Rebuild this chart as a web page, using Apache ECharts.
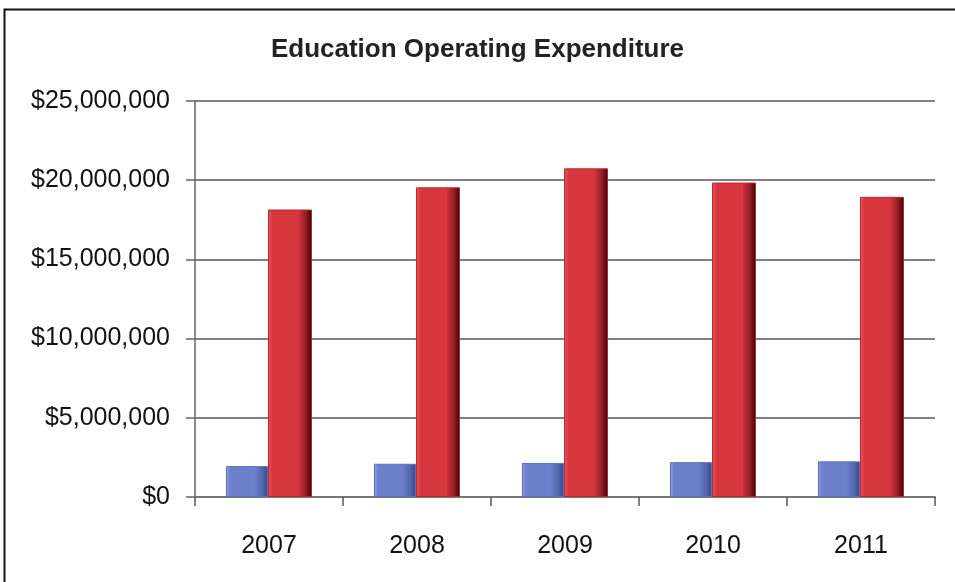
<!DOCTYPE html>
<html>
<head>
<meta charset="utf-8">
<script src="https://cdn.jsdelivr.net/npm/echarts@6/dist/echarts.min.js"></script>
<style>
  html, body { margin: 0; padding: 0; background: #fff; }
  #chart { width: 955px; height: 582px; }
</style>
</head>
<body>
<div id="chart"></div>
<script>
// Education operating expenditure by year
const years = ['2007', '2008', '2009', '2010', '2011'];
const blueValues = [1950000, 2100000, 2150000, 2200000, 2250000];
const redValues = [18150000, 19550000, 20750000, 19850000, 18950000];
const yTicks = [0, 5000000, 10000000, 15000000, 20000000, 25000000];

const FONT = '"Liberation Sans Narrow", "Liberation Sans", Arial, sans-serif';

function fmtDollar(v) {
  return '$' + v.toLocaleString('en-US');
}

// Horizontal shading that gives each bar a bevelled, rounded look
function bevelGradient(light, main, dark, edge) {
  return new echarts.graphic.LinearGradient(0, 0, 1, 0, [
    { offset: 0, color: light },
    { offset: 0.1, color: main },
    { offset: 0.68, color: main },
    { offset: 0.88, color: dark },
    { offset: 1, color: edge }
  ]);
}

const chart = echarts.init(document.getElementById('chart'), null, { renderer: 'canvas' });

chart.setOption({
  backgroundColor: '#ffffff',
  animation: false,
  title: {
    text: 'Education Operating Expenditure',
    left: 'center',
    top: 32,
    textStyle: { fontFamily: FONT, fontSize: 26, fontWeight: 'bold', color: '#222' }
  },
  graphic: [{
    type: 'rect',
    shape: { x: 4.5, y: 9.5, width: 1000, height: 620 },
    style: { fill: 'none', stroke: '#111', lineWidth: 2 },
    silent: true
  }],
  grid: { left: 195, right: 20, top: 101, bottom: 85 },
  xAxis: {
    type: 'category',
    data: years,
    axisLine: { show: true, lineStyle: { color: '#777', width: 2 } },
    axisTick: { show: true, length: 9, alignWithLabel: false, lineStyle: { color: '#555', width: 1.5 } },
    axisLabel: { margin: 37, fontFamily: FONT, fontSize: 25, color: '#111' }
  },
  yAxis: {
    type: 'value',
    min: yTicks[0],
    max: yTicks[yTicks.length - 1],
    interval: 5000000,
    axisLine: { show: true, lineStyle: { color: '#666', width: 1.5 } },
    axisTick: { show: true, length: 9, lineStyle: { color: '#666', width: 1.5 } },
    axisLabel: { margin: 25, fontFamily: FONT, fontSize: 25, color: '#111', formatter: fmtDollar },
    splitLine: { show: true, lineStyle: { color: '#857f80', width: 2 } }
  },
  series: [
    {
      name: 'Blue',
      type: 'bar',
      data: blueValues,
      barWidth: 42,
      barGap: '0%',
      itemStyle: {
        color: bevelGradient('#97a6e2', '#6b7fca', '#5062a8', '#3a4680'),
        borderColor: '#5d6fb8',
        borderWidth: 1
      }
    },
    {
      name: 'Red',
      type: 'bar',
      data: redValues,
      barWidth: 44,
      barGap: '0%',
      itemStyle: {
        color: bevelGradient('#e8585f', '#d8363f', '#8a1a20', '#2a0808'),
        borderColor: '#b52a31',
        borderWidth: 1
      }
    }
  ]
});
</script>
</body>
</html>
